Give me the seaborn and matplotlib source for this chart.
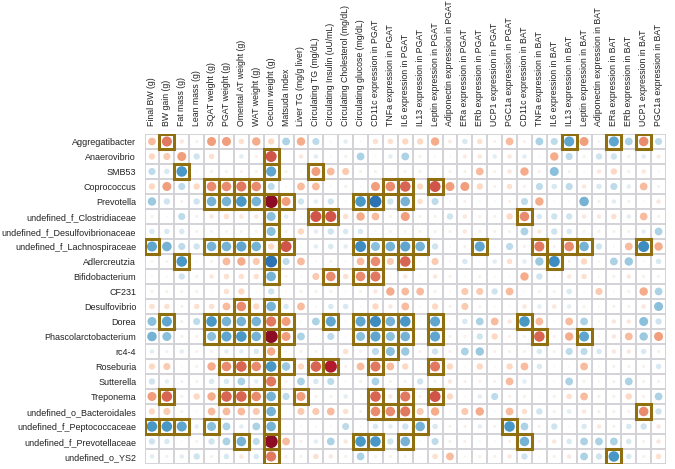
import numpy as np
import pandas as pd
import seaborn as sns
import matplotlib.pyplot as plt
from matplotlib.patches import Rectangle

taxa = ["Aggregatibacter", "Anaerovibrio", "SMB53", "Coprococcus", "Prevotella",
        "undefined_f_Clostridiaceae", "undefined_f_Desulfovibrionaceae",
        "undefined_f_Lachnospiraceae", "Adlercreutzia", "Bifidobacterium", "CF231",
        "Desulfovibrio", "Dorea", "Phascolarctobacterium", "rc4-4", "Roseburia",
        "Sutterella", "Treponema", "undefined_o_Bacteroidales",
        "undefined_f_Peptococcaceae", "undefined_f_Prevotellaceae", "undefined_o_YS2"]

measures = ["Final BW (g)", "BW gain (g)", "Fat mass (g)", "Lean mass (g)",
            "SQAT weight (g)", "PGAT weight (g)", "Omental AT weight (g)", "WAT weight (g)",
            "Cecum weight (g)", "Matsuda Index", "Liver TG (mg/g liver)",
            "Circulating TG (mg/dL)", "Circulating Insulin (uU/mL)",
            "Circulating Cholesterol (mg/dL)", "Circulating glucose (mg/dL)",
            "CD11c expression in PGAT", "TNFa expression in PGAT", "IL6 expression in PGAT",
            "IL13 expression in PGAT", "Leptin expression in PGAT",
            "Adiponectin expression in PGAT", "ERa expression in PGAT", "ERb expression in PGAT",
            "UCP1 expression in PGAT", "PGC1a expression in PGAT", "CD11c expression in BAT",
            "TNFa expression in BAT", "IL6 expression in BAT", "IL13 expression in BAT",
            "Leptin expression in BAT", "Adiponectin expression in BAT", "ERa expression in BAT",
            "ERb expression in BAT", "UCP1 expression in BAT", "PGC1a expression in BAT"]

# correlation estimates, one list per taxon (columns in the order of measures)
corr = [
    [0.3, 0.5, 0.1, 0.05, 0.4, 0.4, 0.15, 0.35, 0.2, -0.3, 0.35, -0.25, 0.02, -0.1, 0.02, 0.15, 0.15, 0.2, 0.2,
     0.35, 0.08, -0.15, 0.15, 0.05, 0.3, 0.05, -0.3, -0.25, -0.5, 0.4, 0.03, -0.5, -0.3, 0.45, -0.25],
    [0.2, 0.25, 0.4, -0.2, 0.15, 0.0, -0.1, 0.05, 0.6, 0.0, 0.1, -0.1, 0.02, 0.05, -0.3, 0.02, -0.1, -0.3, 0.05,
     0.02, 0.02, 0.08, 0.1, -0.1, 0.1, -0.1, 0.02, 0.35, -0.25, 0.05, -0.2, -0.2, 0.05, -0.1, 0.08],
    [-0.25, -0.15, -0.55, 0.02, 0.05, 0.05, 0.05, 0.05, -0.5, 0.05, 0.02, 0.4, 0.3, 0.25, 0.05, 0.05, 0.02, 0.05, 0.05,
     0.02, 0.05, 0.05, 0.3, 0.05, 0.1, 0.35, 0.05, -0.4, 0.05, 0.02, 0.1, 0.2, 0.05, 0.1, 0.02],
    [0.2, 0.4, -0.25, 0.2, 0.45, 0.45, 0.5, 0.45, -0.25, 0.02, 0.3, 0.3, 0.02, 0.05, 0.02, 0.4, 0.45, 0.55, 0.2,
     0.6, 0.4, 0.4, 0.2, 0.05, 0.15, 0.05, -0.25, -0.15, -0.25, 0.1, -0.15, -0.25, -0.1, 0.3, 0.05],
    [-0.35, -0.2, 0.05, -0.2, -0.45, -0.45, -0.55, -0.45, 0.85, 0.4, -0.2, -0.1, -0.2, 0.02, -0.55, -0.7, -0.2, -0.45, 0.15,
     -0.25, 0.02, 0.05, 0.02, 0.02, 0.05, -0.25, 0.35, 0.02, 0.02, -0.45, 0.05, -0.1, 0.05, 0.02, 0.1],
    [0.05, 0.02, -0.25, -0.05, 0.1, 0.15, 0.1, 0.1, -0.4, -0.1, 0.02, 0.6, 0.6, 0.15, 0.35, 0.3, 0.05, 0.4, 0.05,
     0.05, -0.2, 0.1, 0.05, 0.05, 0.2, 0.45, -0.15, -0.2, -0.2, 0.1, 0.1, 0.15, -0.1, 0.3, 0.05],
    [-0.15, -0.15, -0.15, 0.05, -0.05, 0.05, 0.05, 0.05, -0.4, 0.05, 0.2, -0.1, -0.2, -0.15, -0.15, 0.02, 0.05, 0.05, 0.05,
     0.05, 0.05, 0.1, 0.05, 0.05, 0.05, -0.3, 0.1, -0.2, -0.15, 0.05, 0.05, 0.05, 0.05, -0.1, -0.3],
    [-0.5, -0.45, -0.25, -0.2, -0.45, -0.45, -0.5, -0.45, 0.2, 0.6, 0.02, -0.1, -0.15, -0.1, -0.6, -0.4, -0.45, -0.5, -0.45,
     -0.2, 0.02, 0.05, -0.5, 0.02, -0.25, 0.05, 0.5, 0.05, 0.45, -0.45, -0.2, 0.02, 0.3, -0.6, 0.35],
    [0.03, 0.05, -0.55, 0.02, 0.05, 0.3, 0.35, 0.25, -0.7, -0.25, 0.3, 0.02, 0.05, 0.02, 0.3, 0.45, 0.25, 0.55, 0.02,
     0.25, 0.02, -0.15, 0.02, -0.1, 0.15, -0.1, -0.35, -0.6, 0.05, 0.2, 0.02, -0.3, -0.35, 0.02, -0.15],
    [0.02, 0.02, -0.2, 0.05, 0.1, 0.15, 0.15, 0.15, -0.45, 0.05, 0.02, 0.25, 0.45, 0.15, 0.45, 0.5, 0.02, 0.1, 0.02,
     0.1, 0.05, 0.02, 0.05, 0.02, 0.02, 0.35, -0.2, 0.02, 0.1, 0.15, 0.02, 0.05, 0.1, 0.05, 0.05],
    [0.05, 0.05, 0.05, 0.05, 0.02, 0.15, 0.2, 0.02, -0.2, 0.02, 0.05, 0.05, 0.05, 0.02, 0.05, 0.1, 0.35, 0.3, 0.3,
     0.05, 0.02, 0.25, 0.25, -0.2, 0.3, 0.02, 0.05, 0.05, -0.15, 0.02, 0.25, 0.02, 0.05, 0.35, -0.3],
    [0.15, 0.15, 0.05, 0.15, 0.15, 0.3, 0.45, 0.2, -0.45, -0.15, 0.3, 0.02, -0.15, -0.15, 0.02, 0.2, 0.1, 0.3, 0.02,
     0.2, 0.05, 0.25, 0.05, 0.02, 0.02, 0.1, -0.1, 0.1, -0.1, 0.05, 0.02, 0.05, 0.05, 0.1, -0.4],
    [-0.4, -0.5, -0.05, -0.25, -0.55, -0.45, -0.45, -0.45, 0.5, 0.4, 0.02, -0.3, -0.5, 0.02, -0.5, -0.6, -0.45, -0.55, 0.02,
     -0.5, 0.02, -0.15, -0.3, 0.3, 0.1, -0.55, 0.3, 0.02, 0.3, -0.3, 0.02, 0.1, 0.1, -0.4, -0.2],
    [-0.45, -0.4, 0.05, 0.05, -0.4, -0.5, -0.55, -0.45, 0.85, 0.4, -0.3, 0.02, -0.25, 0.02, -0.4, -0.5, -0.4, -0.45, 0.02,
     -0.5, 0.05, 0.05, -0.2, 0.2, 0.05, 0.05, 0.55, 0.05, 0.35, -0.5, 0.02, 0.1, 0.3, -0.35, 0.4],
    [-0.1, -0.05, -0.1, 0.05, 0.05, -0.1, -0.1, -0.15, 0.35, 0.02, 0.05, 0.05, 0.02, 0.15, 0.05, -0.25, -0.4, -0.35, 0.05,
     -0.2, 0.05, -0.3, -0.35, 0.05, 0.05, 0.05, -0.15, 0.05, -0.25, -0.25, -0.15, 0.1, 0.1, -0.15, 0.05],
    [0.2, 0.25, 0.02, 0.05, 0.35, 0.45, 0.55, 0.45, -0.55, -0.35, 0.2, 0.55, 0.75, 0.05, 0.3, 0.5, 0.3, 0.2, 0.02,
     0.5, 0.2, 0.02, 0.2, 0.02, 0.2, 0.3, -0.15, 0.02, 0.02, 0.3, 0.02, 0.05, 0.05, 0.05, -0.15],
    [-0.2, -0.1, -0.05, 0.05, -0.15, -0.15, -0.3, -0.1, 0.5, 0.05, -0.3, -0.15, -0.25, 0.02, 0.05, -0.3, 0.05, 0.05, -0.2,
     0.05, 0.1, 0.05, 0.05, 0.05, 0.3, -0.1, 0.02, 0.02, -0.3, 0.05, 0.02, 0.05, -0.3, 0.05, 0.05],
    [0.4, 0.55, 0.05, 0.2, 0.35, 0.55, 0.55, 0.45, -0.45, -0.25, 0.4, 0.05, 0.05, -0.1, 0.02, 0.55, 0.1, 0.5, 0.05,
     0.6, 0.2, 0.02, -0.1, -0.25, 0.05, 0.05, 0.02, 0.05, 0.15, 0.3, 0.05, 0.05, 0.2, 0.05, -0.3],
    [0.2, 0.25, 0.05, 0.02, 0.3, 0.3, 0.3, 0.25, -0.45, 0.02, 0.25, 0.25, 0.3, 0.15, 0.05, 0.45, 0.45, 0.5, 0.25,
     0.35, 0.02, 0.25, 0.35, 0.02, 0.3, 0.15, -0.2, 0.05, -0.1, 0.1, 0.05, 0.05, 0.05, 0.45, -0.2],
    [-0.55, -0.55, -0.5, -0.1, -0.4, -0.3, -0.1, -0.3, -0.45, 0.02, 0.02, 0.02, 0.02, -0.25, 0.02, -0.15, -0.1, -0.2, -0.45,
     -0.15, 0.05, 0.05, -0.1, 0.05, -0.55, -0.3, 0.05, -0.2, 0.02, -0.15, 0.1, 0.05, -0.15, -0.2, 0.1],
    [-0.2, -0.15, 0.02, 0.05, -0.2, -0.3, -0.45, -0.25, 0.85, 0.3, 0.05, -0.1, -0.3, 0.1, -0.55, -0.55, -0.2, -0.45, 0.02,
     -0.25, 0.05, 0.05, 0.02, 0.02, 0.05, -0.45, 0.05, 0.1, -0.15, -0.3, -0.3, -0.3, -0.15, 0.05, 0.1],
    [-0.1, -0.05, -0.1, -0.2, 0.05, -0.15, 0.1, -0.15, 0.5, 0.05, 0.05, 0.15, 0.1, 0.05, -0.3, 0.05, 0.05, 0.05, 0.02,
     0.15, 0.3, 0.02, 0.05, 0.05, 0.1, -0.2, 0.02, 0.05, 0.1, -0.3, -0.2, -0.55, -0.15, 0.05, 0.15],
]

# significant cells (column indices) per taxon, drawn with a box
sig = [
    [1, 28, 31, 33],
    [8],
    [2, 8, 11],
    [4, 5, 6, 7, 16, 17, 19],
    [4, 5, 6, 7, 8, 9, 14, 15, 17],
    [8, 11, 12, 25],
    [8],
    [0, 4, 5, 6, 7, 8, 9, 14, 15, 16, 17, 18, 22, 26, 28, 29, 33],
    [2, 8, 15, 17, 27],
    [8, 12, 14, 15],
    [],
    [6, 8],
    [1, 4, 5, 6, 7, 8, 9, 12, 14, 15, 16, 17, 19, 25],
    [4, 5, 6, 7, 8, 9, 14, 15, 16, 17, 19, 26, 29],
    [8, 16],
    [5, 6, 7, 8, 9, 11, 12, 15, 19],
    [8],
    [1, 5, 6, 7, 8, 10, 15, 17, 19],
    [8, 15, 16, 17, 33],
    [0, 1, 2, 4, 8, 18, 24],
    [6, 8, 14, 15, 17, 25],
    [8, 31],
]

recs = []
for i, t in enumerate(taxa):
    for j, m in enumerate(measures):
        recs.append({"x": j, "y": i, "r": corr[i][j], "mag": abs(corr[i][j])})
df = pd.DataFrame(recs)

sns.set_style("white")
plt.rcParams["font.family"] = ["Liberation Sans", "DejaVu Sans"]

fig = plt.figure(figsize=(6.75, 4.69), dpi=100)
ax = fig.add_axes([0.2141, 0.0107, 0.7726, 0.7036])

# grid
for k in range(len(measures) + 1):
    ax.axvline(k - 0.5, color="#d2d2d7", lw=1.4, zorder=1)
for k in range(len(taxa) + 1):
    ax.axhline(k - 0.5, color="#d2d2d7", lw=1.4, zorder=1)

sns.scatterplot(data=df, x="x", y="y", hue="r", palette="RdBu_r", hue_norm=(-0.95, 0.95),
                size="mag", sizes=(0, 105), size_norm=(0, 1), legend=False,
                linewidth=0, ax=ax, zorder=3)

for i, cols in enumerate(sig):
    for j in cols:
        ax.add_patch(Rectangle((j - 0.5, i - 0.5), 1, 1, fill=False,
                               ec="#8f6f10", lw=2.2, zorder=4))

ax.set_xlim(-0.5, len(measures) - 0.5)
ax.set_ylim(len(taxa) - 0.5, -0.5)
ax.xaxis.tick_top()
ax.set_xticks(range(len(measures)))
ax.set_xticklabels(measures, rotation=90, fontsize=6.3, color="#222222")
ax.set_yticks(range(len(taxa)))
ax.set_yticklabels(taxa, fontsize=6.5, color="#222222")
ax.tick_params(length=0, pad=6)
ax.set_xlabel("")
ax.set_ylabel("")
for s in ax.spines.values():
    s.set_visible(False)

fig.savefig("out.png", dpi=100)
